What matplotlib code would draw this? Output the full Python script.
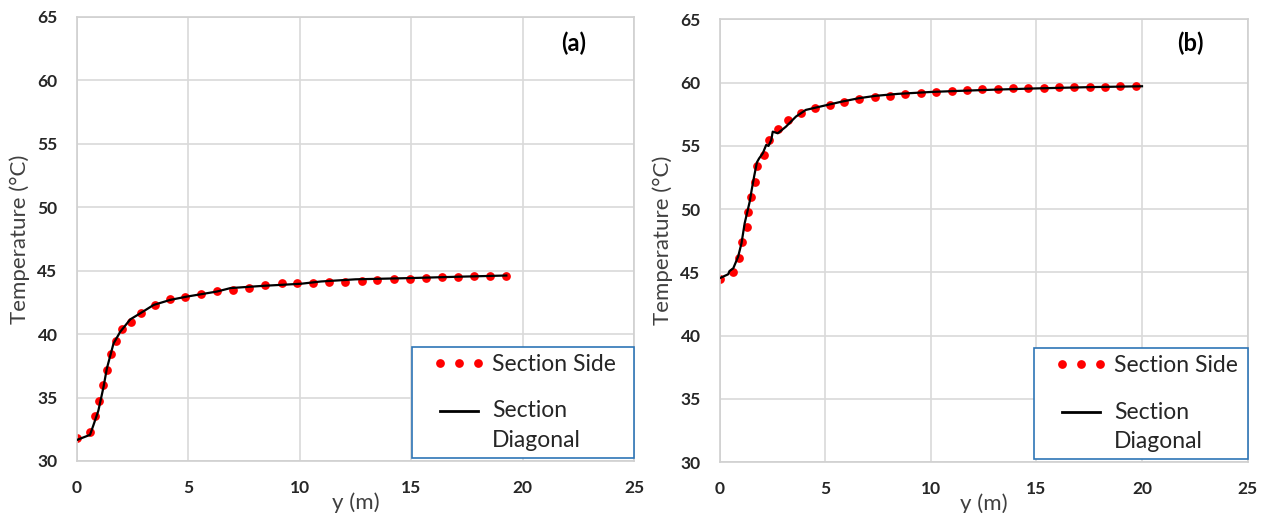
import numpy as np
import matplotlib
matplotlib.use('Agg')
import matplotlib.pyplot as plt
from matplotlib.legend_handler import HandlerLine2D

plt.rcParams['font.family'] = ['Lato', 'DejaVu Sans']

# panel (a) - section side (dots)
side_a_y = [0, 0.59, 0.82, 1.0, 1.17, 1.34, 1.52, 1.74, 2.0, 2.42, 2.88, 3.48, 4.16, 4.87,
            5.57, 6.3, 7.01, 7.73, 8.44, 9.18, 9.87, 10.6, 11.32, 12.05, 12.77, 13.48,
            14.21, 14.95, 15.66, 16.37, 17.1, 17.82, 18.55, 19.27]
side_a_t = [31.84, 32.29, 33.53, 34.7, 35.97, 37.2, 38.45, 39.47, 40.42, 40.95, 41.68, 42.32,
            42.74, 42.92, 43.2, 43.37, 43.45, 43.6, 43.84, 44.0, 44.05, 44.05, 44.1, 44.13,
            44.18, 44.24, 44.32, 44.37, 44.42, 44.47, 44.53, 44.55, 44.58, 44.58]
# panel (a) - section diagonal (line)
diag_a_y = [0, 0.585, 0.73, 0.96, 1.19, 1.34, 1.64, 1.94, 2.39, 2.84, 3.44, 4.19, 4.94,
            6.29, 6.89, 8.39, 10.05, 10.95, 12.5, 15.0, 17.0, 19.27]
diag_a_t = [31.66, 32.06, 32.78, 33.97, 35.82, 37.28, 39.26, 40.18, 41.16, 41.64, 42.3, 42.7,
            42.96, 43.36, 43.63, 43.81, 43.97, 44.15, 44.32, 44.42, 44.52, 44.62]

# panel (b) - section side (dots)
side_b_y = [0, 0.6, 0.89, 1.05, 1.26, 1.32, 1.47, 1.66, 1.77, 2.07, 2.3, 2.73, 3.22, 3.84,
            4.5, 5.2, 5.89, 6.61, 7.33, 8.06, 8.79, 9.51, 10.24, 10.98, 11.71, 12.43, 13.16,
            13.88, 14.61, 15.35, 16.06, 16.8, 17.53, 18.25, 18.98, 19.7]
side_b_t = [44.5, 45.06, 46.17, 47.37, 48.56, 49.76, 50.95, 52.15, 53.4, 54.27, 55.46, 56.31,
            57.05, 57.58, 58.03, 58.24, 58.51, 58.72, 58.9, 58.98, 59.12, 59.2, 59.25, 59.36,
            59.44, 59.49, 59.52, 59.55, 59.6, 59.6, 59.63, 59.66, 59.66, 59.68, 59.71, 59.71]
# panel (b) - section diagonal (line)
diag_b_y = [0, 0.39, 0.45, 0.63, 0.86, 1.02, 1.17, 1.41, 1.5, 1.62, 1.75, 1.85, 2.03, 2.19,
            2.3, 2.43, 2.5, 2.74, 3.13, 3.6, 4.07, 4.9, 5.79, 6.57, 7.36, 8.45, 10.02, 11.27,
            13.0, 15.0, 17.5, 20.0]
diag_b_t = [44.55, 44.85, 45.1, 45.32, 46.24, 47.3, 48.88, 50.6, 51.5, 52.6, 53.7, 54.0,
            54.42, 55.08, 55.0, 55.47, 56.13, 56.0, 56.53, 57.32, 57.85, 58.17, 58.51, 58.77,
            58.96, 59.12, 59.27, 59.35, 59.45, 59.55, 59.65, 59.72]

panels = [
    ('(a)', side_a_y, side_a_t, diag_a_y, diag_a_t, [0.0608, 0.1014, 0.44, 0.8655], 0.892, 0.941),
    ('(b)', side_b_y, side_b_t, diag_b_y, diag_b_t, [0.5687, 0.0994, 0.4167, 0.8626], 0.891, 0.947),
]

fig = plt.figure(figsize=(12.66, 5.13), dpi=100)

for tag, sy, st, dy, dt, rect, tx, ty in panels:
    ax = fig.add_axes(rect)
    ax.plot(sy, st, linestyle='none', marker='o', color='#FF0000', markersize=6.3,
            markeredgewidth=0, label='Section Side', zorder=2)
    ax.plot(dy, dt, color='black', linewidth=1.6, label='Section\nDiagonal', zorder=3)
    ax.set_xlim(0, 25)
    ax.set_ylim(30, 65)
    ax.set_xticks(np.arange(0, 26, 5))
    ax.set_yticks(np.arange(30, 66, 5))
    ax.grid(True, color='#D9D9D9', linewidth=1.2)
    ax.set_axisbelow(True)
    for s in ax.spines.values():
        s.set_color('#D0D0D0')
        s.set_linewidth(1.2)
    ax.tick_params(length=0, labelsize=12.5, colors='#262626', pad=14)
    for lbl in ax.get_xticklabels() + ax.get_yticklabels():
        lbl.set_fontweight('bold')
    ax.set_xlabel('y (m)', fontsize=16, color='#404040', labelpad=-3)
    ax.set_ylabel('Temperature (°C)', fontsize=16, color='#404040', labelpad=5)
    ax.text(tx, ty, tag, transform=ax.transAxes, fontsize=17, fontweight='bold',
            ha='center', va='center', color='black')

    w = 1.0 - (412 - 77) / 557 if tag == '(a)' else 1.0 - (1034 - 720) / 527.5
    leg = ax.legend(loc='lower left', bbox_to_anchor=(1.0 - w, 0.007, w, 0.2), mode='expand',
                    borderaxespad=0, fontsize=16.5, numpoints=3, handlelength=2.9,
                    handletextpad=0.3, labelspacing=1.1, borderpad=0.3, fancybox=False,
                    framealpha=1, handler_map={plt.Line2D: HandlerLine2D(xpad=0.62)})
    leg.get_frame().set_edgecolor('#2E75B6')
    leg.get_frame().set_linewidth(1.2)
    for t in leg.get_texts():
        t.set_color('#262626')
        t.set_linespacing(1.5)
    # align the line handle with the first text line
    hl = leg.legend_handles[1]
    hl.set_ydata(np.asarray(hl.get_ydata()) + 11)
    hl.set_linewidth(2)

fig.savefig('out.png', dpi=100)
